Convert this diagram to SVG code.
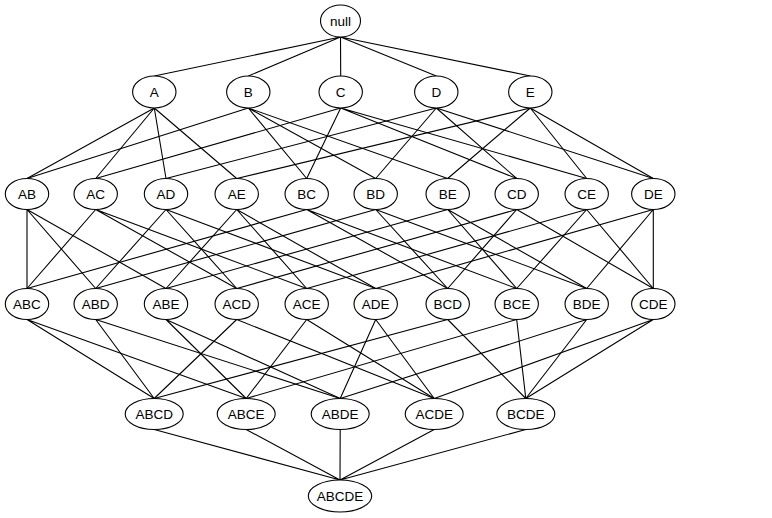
<svg xmlns="http://www.w3.org/2000/svg" width="772" height="518" viewBox="0 0 772 518">
<style>
.n ellipse{fill:#fff;stroke:#000;stroke-width:1.1}
.n text{font-family:"Liberation Sans",Arial,sans-serif;font-size:13.5px;text-anchor:middle;fill:#000}
#edges path{stroke:#000;stroke-width:1.1;fill:none}
</style>
<rect width="772" height="518" fill="#fff"/>
<g id="edges">
<path d="M340.5,37L154.3,76M340.5,37L248.3,76M340.5,37L340.7,76M340.5,37L436.3,76M340.5,37L530.3,76"/>
<path d="M154.3,108L27,178.5M154.3,108L95.7,178.5M154.3,108L166,178.5M154.3,108L236.7,178.5"/>
<path d="M248.3,108L27,178.5M248.3,108L306.7,178.5M248.3,108L375.7,178.5M248.3,108L447.7,178.5"/>
<path d="M340.7,108L95.7,178.5M340.7,108L306.7,178.5M340.7,108L516.7,178.5M340.7,108L586.7,178.5"/>
<path d="M436.3,108L166,178.5M436.3,108L375.7,178.5M436.3,108L516.7,178.5M436.3,108L653.3,178.5"/>
<path d="M530.3,108L236.7,178.5M530.3,108L447.7,178.5M530.3,108L586.7,178.5M530.3,108L653.3,178.5"/>
<path d="M27,209.5L27,288.5M27,209.5L95.7,288.5M27,209.5L166,288.5"/>
<path d="M95.7,209.5L27,288.5M95.7,209.5L236.7,288.5M95.7,209.5L306.7,288.5"/>
<path d="M166,209.5L95.7,288.5M166,209.5L236.7,288.5M166,209.5L375.7,288.5"/>
<path d="M236.7,209.5L166,288.5M236.7,209.5L306.7,288.5M236.7,209.5L375.7,288.5"/>
<path d="M306.7,209.5L27,288.5M306.7,209.5L447.7,288.5M306.7,209.5L516.7,288.5"/>
<path d="M375.7,209.5L95.7,288.5M375.7,209.5L447.7,288.5M375.7,209.5L586.7,288.5"/>
<path d="M447.7,209.5L166,288.5M447.7,209.5L516.7,288.5M447.7,209.5L586.7,288.5"/>
<path d="M516.7,209.5L236.7,288.5M516.7,209.5L447.7,288.5M516.7,209.5L653.3,288.5"/>
<path d="M586.7,209.5L306.7,288.5M586.7,209.5L516.7,288.5M586.7,209.5L653.3,288.5"/>
<path d="M653.3,209.5L375.7,288.5M653.3,209.5L586.7,288.5M653.3,209.5L653.3,288.5"/>
<path d="M27,319.5L154.2,398.5M27,319.5L246.2,398.5"/>
<path d="M95.7,319.5L154.2,398.5M95.7,319.5L340.2,398.5"/>
<path d="M166,319.5L246.2,398.5M166,319.5L340.2,398.5"/>
<path d="M236.7,319.5L154.2,398.5M236.7,319.5L434.2,398.5"/>
<path d="M306.7,319.5L246.2,398.5M306.7,319.5L434.2,398.5"/>
<path d="M375.7,319.5L340.2,398.5M375.7,319.5L434.2,398.5"/>
<path d="M447.7,319.5L154.2,398.5M447.7,319.5L525.8,398.5"/>
<path d="M516.7,319.5L246.2,398.5M516.7,319.5L525.8,398.5"/>
<path d="M586.7,319.5L340.2,398.5M586.7,319.5L525.8,398.5"/>
<path d="M653.3,319.5L434.2,398.5M653.3,319.5L525.8,398.5"/>
<path d="M154.2,429.5L340,480M246.2,429.5L340,480M340.2,429.5L340,480M434.2,429.5L340,480M525.8,429.5L340,480"/>
</g>
<g id="null" class="n"><ellipse cx="340.5" cy="21" rx="20" ry="16"/><text x="340.5" y="26">null</text></g>
<g id="A" class="n"><ellipse cx="154.3" cy="92" rx="21.7" ry="16"/><text x="154.3" y="97">A</text></g>
<g id="B" class="n"><ellipse cx="248.3" cy="92" rx="21.7" ry="16"/><text x="248.3" y="97">B</text></g>
<g id="C" class="n"><ellipse cx="340.7" cy="92" rx="21.7" ry="16"/><text x="340.7" y="97">C</text></g>
<g id="D" class="n"><ellipse cx="436.3" cy="92" rx="21.7" ry="16"/><text x="436.3" y="97">D</text></g>
<g id="E" class="n"><ellipse cx="530.3" cy="92" rx="21.7" ry="16"/><text x="530.3" y="97">E</text></g>
<g id="AB" class="n"><ellipse cx="27" cy="194" rx="21.7" ry="15.5"/><text x="27" y="199">AB</text></g>
<g id="AC" class="n"><ellipse cx="95.7" cy="194" rx="21.7" ry="15.5"/><text x="95.7" y="199">AC</text></g>
<g id="AD" class="n"><ellipse cx="166" cy="194" rx="21.7" ry="15.5"/><text x="166" y="199">AD</text></g>
<g id="AE" class="n"><ellipse cx="236.7" cy="194" rx="21.7" ry="15.5"/><text x="236.7" y="199">AE</text></g>
<g id="BC" class="n"><ellipse cx="306.7" cy="194" rx="21.7" ry="15.5"/><text x="306.7" y="199">BC</text></g>
<g id="BD" class="n"><ellipse cx="375.7" cy="194" rx="21.7" ry="15.5"/><text x="375.7" y="199">BD</text></g>
<g id="BE" class="n"><ellipse cx="447.7" cy="194" rx="21.7" ry="15.5"/><text x="447.7" y="199">BE</text></g>
<g id="CD" class="n"><ellipse cx="516.7" cy="194" rx="21.7" ry="15.5"/><text x="516.7" y="199">CD</text></g>
<g id="CE" class="n"><ellipse cx="586.7" cy="194" rx="21.7" ry="15.5"/><text x="586.7" y="199">CE</text></g>
<g id="DE" class="n"><ellipse cx="653.3" cy="194" rx="21.7" ry="15.5"/><text x="653.3" y="199">DE</text></g>
<g id="ABC" class="n"><ellipse cx="27" cy="304" rx="21.7" ry="15.5"/><text x="27" y="309">ABC</text></g>
<g id="ABD" class="n"><ellipse cx="95.7" cy="304" rx="21.7" ry="15.5"/><text x="95.7" y="309">ABD</text></g>
<g id="ABE" class="n"><ellipse cx="166" cy="304" rx="21.7" ry="15.5"/><text x="166" y="309">ABE</text></g>
<g id="ACD" class="n"><ellipse cx="236.7" cy="304" rx="21.7" ry="15.5"/><text x="236.7" y="309">ACD</text></g>
<g id="ACE" class="n"><ellipse cx="306.7" cy="304" rx="21.7" ry="15.5"/><text x="306.7" y="309">ACE</text></g>
<g id="ADE" class="n"><ellipse cx="375.7" cy="304" rx="21.7" ry="15.5"/><text x="375.7" y="309">ADE</text></g>
<g id="BCD" class="n"><ellipse cx="447.7" cy="304" rx="21.7" ry="15.5"/><text x="447.7" y="309">BCD</text></g>
<g id="BCE" class="n"><ellipse cx="516.7" cy="304" rx="21.7" ry="15.5"/><text x="516.7" y="309">BCE</text></g>
<g id="BDE" class="n"><ellipse cx="586.7" cy="304" rx="21.7" ry="15.5"/><text x="586.7" y="309">BDE</text></g>
<g id="CDE" class="n"><ellipse cx="653.3" cy="304" rx="21.7" ry="15.5"/><text x="653.3" y="309">CDE</text></g>
<g id="ABCD" class="n"><ellipse cx="154.2" cy="414" rx="29" ry="15.5"/><text x="154.2" y="419">ABCD</text></g>
<g id="ABCE" class="n"><ellipse cx="246.2" cy="414" rx="29" ry="15.5"/><text x="246.2" y="419">ABCE</text></g>
<g id="ABDE" class="n"><ellipse cx="340.2" cy="414" rx="29" ry="15.5"/><text x="340.2" y="419">ABDE</text></g>
<g id="ACDE" class="n"><ellipse cx="434.2" cy="414" rx="29" ry="15.5"/><text x="434.2" y="419">ACDE</text></g>
<g id="BCDE" class="n"><ellipse cx="525.8" cy="414" rx="29" ry="15.5"/><text x="525.8" y="419">BCDE</text></g>
<g id="ABCDE" class="n"><ellipse cx="340" cy="496" rx="31.7" ry="16"/><text x="340" y="501">ABCDE</text></g>
</svg>
